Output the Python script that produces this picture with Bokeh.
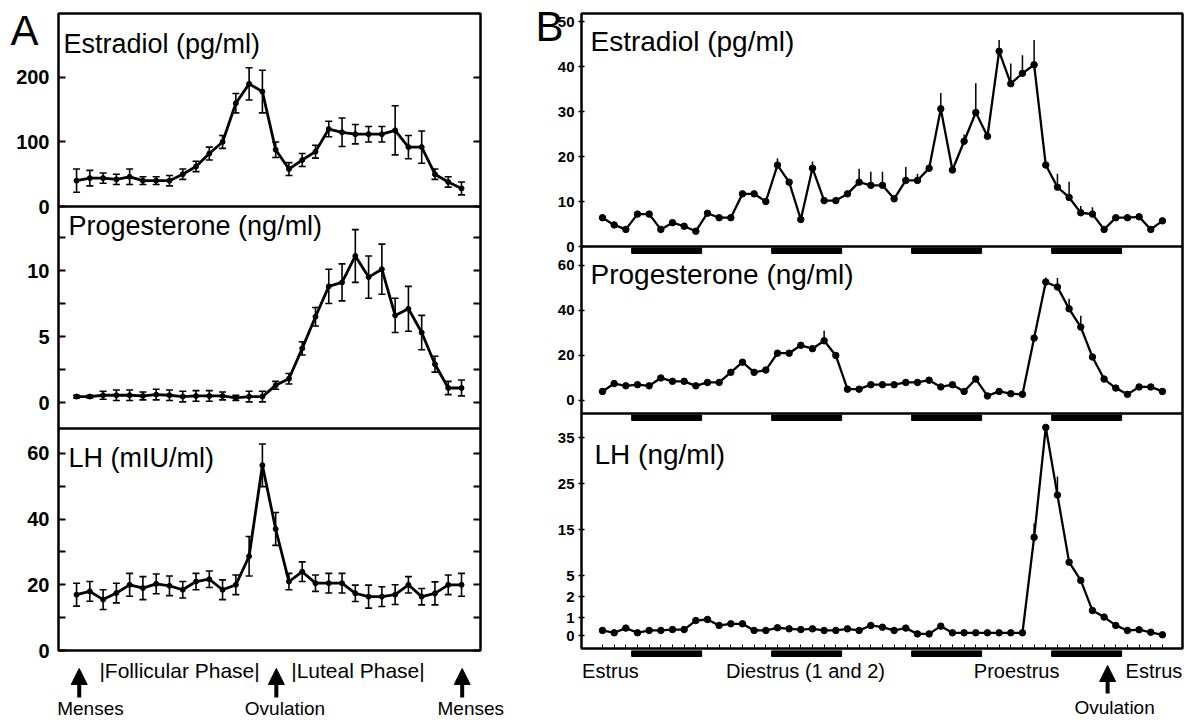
import numpy as np
from bokeh.plotting import figure
from bokeh.models import (Range1d, LinearAxis, FixedTicker, Label, Span, Whisker, Title,
                          TeeHead, ColumnDataSource, Arrow, NormalHead)
from bokeh.layouts import row, column
from bokeh.embed import file_html
from bokeh.resources import INLINE
from bokeh.core.properties import value

FONT = "Liberation Sans"
INK = "black"

# ---------------- data: A (human menstrual cycle, 30 days) ----------------
a_days = list(range(1, 31))
a_estradiol = [40, 44, 44, 42, 46, 40, 40, 40, 50, 62, 82, 100, 160, 190, 178,
               88, 58, 72, 85, 120, 115, 112, 112, 112, 118, 92, 92, 50, 38, 28]
a_estradiol_err = [18, 12, 8, 8, 12, 6, 6, 8, 8, 8, 10, 10, 15, 25, 33,
                   12, 10, 10, 10, 12, 22, 15, 12, 12, 38, 18, 25, 8, 8, 10]
a_progesterone = [0.45, 0.45, 0.55, 0.55, 0.55, 0.5, 0.6, 0.55, 0.45, 0.5, 0.5, 0.5, 0.35, 0.45, 0.45,
                  1.3, 1.8, 4.1, 6.5, 8.8, 9.1, 11.1, 9.5, 10.1, 6.6, 7.1, 5.3, 2.9, 1.1, 1.1]
a_progesterone_err = [0.1, 0.1, 0.3, 0.4, 0.4, 0.3, 0.4, 0.4, 0.4, 0.4, 0.4, 0.3, 0.2, 0.4, 0.4,
                      0.3, 0.4, 0.5, 0.7, 1.3, 1.4, 2.0, 1.6, 1.9, 1.3, 1.7, 1.3, 0.6, 0.5, 0.6]
a_lh = [17, 18, 15.5, 17.5, 20, 19, 20.3, 19.7, 18.5, 21, 21.7, 18.5, 20, 28.7, 56.4,
        37, 21, 24, 20.5, 20.5, 20.5, 17.4, 16.4, 16.4, 17, 20, 16.4, 17.4, 20, 20]
a_lh_err = [3.5, 3, 3, 3, 3.5, 3.5, 3, 3, 2.5, 2.5, 2.5, 3, 3, 6, 6.5,
            5, 2.5, 3, 2.5, 3, 3, 2.5, 3.5, 3, 3, 2.5, 2.5, 3.5, 3, 3.5]

a_estradiol_ticks = [0, 100, 200]
a_estradiol_labels = ["0", "100", "200"]
a_progesterone_ticks = [0, 2.5, 5, 7.5, 10, 12.5]
a_progesterone_labels = ["0", "", "5", "", "10", ""]
a_lh_ticks = [0, 10, 20, 30, 40, 50, 60]
a_lh_labels = ["0", "", "20", "", "40", "", "60"]

a_phase_text = ["|Follicular Phase|", "|Luteal Phase|"]
a_phase_day = [8.76, 22.2]
a_event_text = ["Menses", "Ovulation", "Menses"]
a_event_day = [1.2, 16.05, 30.05]
a_event_text_day = [2.05, 16.7, 30.7]

# ---------------- data: B (rat estrous cycle, 49 samples) ----------------
b_samples = list(range(49))
b_estradiol = [6.4, 4.8, 3.8, 7.2, 7.2, 3.8, 5.3, 4.5, 3.4, 7.4,
               6.4, 6.4, 11.7, 11.7, 10.0, 18.1, 14.3, 6.0, 17.4, 10.2,
               10.2, 11.7, 14.3, 13.6, 13.6, 10.6, 14.7, 14.7, 17.4, 30.6,
               17.0, 23.4, 29.8, 24.5, 43.4, 36.2, 38.5, 40.4, 18.1, 13.2,
               10.9, 7.5, 7.2, 3.8, 6.4, 6.4, 6.6, 3.8, 5.7]
b_estradiol_err = [0, 0, 0, 0, 0, 0, 0, 0, 0, 0,
                   0, 0, 0, 0, 0, 1.5, 0, 0, 1.5, 0,
                   0, 0, 3, 3, 3, 0, 3, 1.5, 0, 3.5,
                   0, 1.5, 6.5, 0, 2.5, 4.5, 4, 5.5, 0, 3,
                   3.5, 1.5, 1.5, 0, 0, 0, 0, 0, 0]
b_progesterone = [4, 7.5, 6.5, 7, 6.5, 10, 8.5, 8.5, 6.5, 8,
                  8, 12.5, 17, 12.5, 13.5, 21, 21, 24.5, 23, 26.5,
                  20, 5, 5, 7, 7, 7, 8, 8, 9, 6,
                  7, 4, 9.5, 2, 4, 3, 2.7, 27.7, 52.6, 50.4,
                  40.7, 32.6, 19.3, 9.5, 5.5, 2.7, 6, 6, 4]
b_progesterone_err = [0, 0, 0, 0, 0, 0, 0, 0, 0, 0,
                      0, 0, 0, 0, 0, 0, 0, 0, 0, 4.5,
                      0, 0, 0, 0, 0, 0, 0, 0, 0, 0,
                      0, 0, 0, 0, 0, 0, 0, 0, 2, 4,
                      4.5, 5, 0, 0, 0, 0, 0, 0, 0]
b_lh = [0.28, 0.15, 0.41, 0.15, 0.28, 0.28, 0.33, 0.33, 0.83, 0.89,
        0.56, 0.65, 0.65, 0.28, 0.28, 0.43, 0.37, 0.33, 0.37, 0.28,
        0.28, 0.37, 0.28, 0.56, 0.46, 0.28, 0.41, 0.09, 0.09, 0.52,
        0.15, 0.15, 0.15, 0.15, 0.15, 0.15, 0.15, 13.3, 37.2, 22.5,
        7.9, 4.3, 1.33, 1.02, 0.56, 0.28, 0.32, 0.18, 0.04]
b_lh_err = [0, 0, 0, 0, 0, 0, 0, 0, 0, 0,
            0, 0, 0, 0, 0, 0, 0, 0, 0, 0,
            0, 0, 0, 0, 0, 0, 0, 0, 0, 0,
            0, 0, 0, 0, 0, 0, 0, 3, 0, 4,
            0, 0, 0, 0, 0, 0, 0, 0, 0]
b_dark_periods = [(2.5, 8.5), (14.5, 20.5), (26.5, 32.5), (38.5, 44.5)]

b_estradiol_ticks = [0, 10, 20, 30, 40, 50]
b_progesterone_ticks = [0, 20, 40, 60]
b_lh_ticks = [0, 1, 2, 5, 15, 25, 35]

b_stage_text = ["Estrus", "Diestrus (1 and 2)", "Proestrus", "Estrus"]
b_stage_sample = [-1.75, 17.4, 35.5, 49.7]
b_stage_align = ["left", "center", "center", "right"]
b_ovulation_sample = 43.3


# broken LH axis in B: expanded low range, linear above 5
def lh_axis(v):
    return np.interp(np.asarray(v, float), [0, 1, 2, 5, 40], [0, 18, 39, 60, 60 + 35 * 4.6])


class Band:
    """A horizontal strip of a tall frame, mapping panel values to frame pixels."""
    def __init__(self, px0, px1, v0, v1, total):
        self.px0, self.px1, self.v0, self.v1 = px0, px1, v0, v1
        s = (v1 - v0) / (px1 - px0)
        self.range = Range1d(v0 - px0 * s, v0 + (total - px0) * s)

    def px(self, v):
        return self.px0 + (np.asarray(v, float) - self.v0) * (self.px1 - self.px0) / (self.v1 - self.v0)


def make_axis(items, **kw):
    ticks, overrides = [], {}
    for band, tvals, tlabels, fn in items:
        for v, lab in zip(tvals, tlabels):
            px = round(float(band.px(fn(v))), 2)
            ticks.append(px)
            overrides[px] = lab
    return LinearAxis(ticker=FixedTicker(ticks=ticks, minor_ticks=[]),
                      major_label_overrides=overrides, axis_line_color=None,
                      major_tick_line_color=INK,
                      minor_tick_line_color=None, **kw)


def ident(v):
    return v


def bare(p):
    p.grid.visible = False
    p.background_fill_color = "white"
    p.border_fill_color = "white"


# ================= Column A =================
A_W, A_H = 530, 660
A_L, A_R, A_T, A_B = 58, 50, 13, 10
A_FH = A_H - A_T - A_B
A_FW = A_W - A_L - A_R
a_x0, a_x1 = -0.36, 31.43
a_ppu = A_FW / (a_x1 - a_x0)

band_a_lh = Band(0, 222, 0, 67.6, A_FH)
band_a_pr = Band(222, 444, -1.97, 14.85, A_FH)
band_a_es = Band(444, A_FH, 0, 299, A_FH)

pa = figure(width=A_W, height=A_H, x_range=Range1d(a_x0, a_x1), y_range=Range1d(0, A_FH),
            x_axis_location=None, y_axis_location=None, toolbar_location=None,
            output_backend="svg", min_border_left=A_L, min_border_right=A_R,
            min_border_top=A_T, min_border_bottom=A_B)
bare(pa)
pa.outline_line_color = INK
pa.outline_line_width = 2.5
pa.extra_y_ranges = {"es": band_a_es.range, "pr": band_a_pr.range, "lh": band_a_lh.range}

for name, y, err in [("es", a_estradiol, a_estradiol_err),
                     ("pr", a_progesterone, a_progesterone_err),
                     ("lh", a_lh, a_lh_err)]:
    y = np.array(y, float)
    e = np.array(err, float)
    src = ColumnDataSource(dict(x=a_days, y=y, lo=y - e, hi=y + e))
    pa.add_layout(Whisker(source=src, base="x", lower="lo", upper="hi", y_range_name=name,
                          line_width=1.6, line_color=INK,
                          upper_head=TeeHead(size=7, line_width=1.6, line_color=INK),
                          lower_head=TeeHead(size=7, line_width=1.6, line_color=INK)))
    pa.line("x", "y", source=src, y_range_name=name, line_width=2.8, line_color=INK)
    pa.scatter("x", "y", source=src, y_range_name=name, size=5, color=INK)

axis_items_a = [(band_a_es, a_estradiol_ticks, a_estradiol_labels, ident),
                (band_a_pr, a_progesterone_ticks, a_progesterone_labels, ident),
                (band_a_lh, a_lh_ticks, a_lh_labels, ident)]
pa.add_layout(make_axis(axis_items_a, major_tick_in=7, major_tick_out=0, major_tick_line_width=2,
                        major_label_standoff=9, major_label_text_font=FONT,
                        major_label_text_font_style="bold", major_label_text_color=INK,
                        major_label_text_font_size="20px"), "left")
pa.add_layout(make_axis(axis_items_a, major_tick_in=7, major_tick_out=0, major_tick_line_width=2,
                        major_label_standoff=0, major_label_text_color=None), "right")

for loc in (band_a_pr.px0, band_a_es.px0):
    pa.add_layout(Span(location=loc, dimension="width", line_color=INK, line_width=2.5))

for band, txt, dx, dy in [(band_a_es, "Estradiol (pg/ml)", 5, -15),
                          (band_a_pr, "Progesterone (ng/ml)", 10, -4),
                          (band_a_lh, "LH (mIU/ml)", 10, -14)]:
    pa.add_layout(Label(x=a_x0, y=band.px1, x_offset=dx, y_offset=dy, text=txt,
                        text_baseline="top", text_font=FONT, text_font_size="27px",
                        text_color=INK))

pa.title = Title(text="A", align="left", offset=-48, vertical_align="bottom", standoff=-80,
                 text_font=FONT, text_font_size="42px", text_font_style="normal",
                 text_color=INK)

# annotation strip under A
ANN_H_A = 58
pa_ann = figure(width=A_W, height=ANN_H_A,
                x_range=Range1d(a_x0 - A_L / a_ppu, a_x1 + A_R / a_ppu),
                y_range=Range1d(-ANN_H_A, 0), x_axis_location=None, y_axis_location=None,
                toolbar_location=None, output_backend="svg", min_border=0,
                outline_line_color=None)
bare(pa_ann)
pa_ann.text(x=a_phase_day, y=[-10] * len(a_phase_day), text=a_phase_text,
            text_font=value(FONT), text_font_size=value("21px"), text_color=INK,
            text_align="center", text_baseline="middle")
pa_ann.text(x=a_event_text_day, y=[-48] * len(a_event_text_day), text=a_event_text,
            text_font=value(FONT), text_font_size=value("19px"), text_color=INK,
            text_align="center", text_baseline="middle")
for d in a_event_day:
    pa_ann.add_layout(Arrow(x_start=d, y_start=-37, x_end=d, y_end=-8, line_width=4,
                            line_color=INK,
                            end=NormalHead(size=16, fill_color=INK, line_color=INK)))

# ================= Column B =================
B_W, B_H = 658, 650
B_L, B_R, B_T, B_B = 51, 6, 13, 2
B_FH = B_H - B_T - B_B
B_FW = B_W - B_L - B_R
b_x0, b_x1 = -1.80, 49.72
b_ppu = B_FW / (b_x1 - b_x0)

band_b_lh = Band(0, 235, -13, 222, B_FH)
band_b_pr = Band(235, 402, -5.8, 68.4, B_FH)
band_b_es = Band(402, B_FH, 0, 51.8, B_FH)

pb = figure(width=B_W, height=B_H, x_range=Range1d(b_x0, b_x1), y_range=Range1d(0, B_FH),
            x_axis_location=None, y_axis_location=None, toolbar_location=None,
            output_backend="svg", min_border_left=B_L, min_border_right=B_R,
            min_border_top=B_T, min_border_bottom=B_B)
bare(pb)
pb.outline_line_color = INK
pb.outline_line_width = 2.5
pb.extra_y_ranges = {"es": band_b_es.range, "pr": band_b_pr.range, "lh": band_b_lh.range}

for name, y, err, fn in [("es", b_estradiol, b_estradiol_err, ident),
                         ("pr", b_progesterone, b_progesterone_err, ident),
                         ("lh", b_lh, b_lh_err, lh_axis)]:
    y = np.array(y, float)
    e = np.array(err, float)
    m = e > 0
    xs = np.array(b_samples)[m]
    pb.segment(x0=xs, y0=fn(y[m]), x1=xs, y1=fn(y[m] + e[m]), y_range_name=name,
               line_color=INK, line_width=1.5)
    pb.line(b_samples, fn(y), y_range_name=name, line_width=2.3, line_color=INK)
    pb.scatter(b_samples, fn(y), y_range_name=name, size=6.5, color=INK)

axis_items_b = [(band_b_es, b_estradiol_ticks, [str(t) for t in b_estradiol_ticks], ident),
                (band_b_pr, b_progesterone_ticks, [str(t) for t in b_progesterone_ticks], ident),
                (band_b_lh, b_lh_ticks, [str(t) for t in b_lh_ticks], lh_axis)]
pb.add_layout(make_axis(axis_items_b, major_tick_in=3, major_tick_out=3, major_tick_line_width=1.5,
                        major_label_standoff=4, major_label_text_font=FONT,
                        major_label_text_font_style="bold", major_label_text_color=INK,
                        major_label_text_font_size="15px"), "left")
pb.add_layout(LinearAxis(ticker=FixedTicker(ticks=b_samples, minor_ticks=[]),
                         axis_line_color=None, major_tick_in=4, major_tick_out=0,
                         major_tick_line_color=INK,
                         major_label_standoff=0, major_label_text_color=None,
                         minor_tick_line_color=None), "below")

for loc in (band_b_pr.px0, band_b_es.px0):
    pb.add_layout(Span(location=loc, dimension="width", line_color=INK, line_width=2.5))

# dark-phase bars just under the panel separators
for top in (band_b_es.px0, band_b_pr.px0):
    pb.quad(left=[s for s, e in b_dark_periods], right=[e for s, e in b_dark_periods],
            top=[top - 1.5] * len(b_dark_periods), bottom=[top - 7] * len(b_dark_periods),
            color=INK)

for band, txt, dx, dy in [(band_b_es, "Estradiol (pg/ml)", 9, -12),
                          (band_b_pr, "Progesterone (ng/ml)", 9, -12),
                          (band_b_lh, "LH (ng/ml)", 13, -25)]:
    pb.add_layout(Label(x=b_x0, y=band.px1, x_offset=dx, y_offset=dy, text=txt,
                        text_baseline="top", text_font=FONT, text_font_size="28px",
                        text_color=INK))

pb.title = Title(text="B", align="left", offset=-46, vertical_align="bottom", standoff=-72,
                 text_font=FONT, text_font_size="42px", text_font_style="normal",
                 text_color=INK)

ANN_H_B = 68
pb_ann = figure(width=B_W, height=ANN_H_B,
                x_range=Range1d(b_x0 - B_L / b_ppu, b_x1 + B_R / b_ppu),
                y_range=Range1d(-ANN_H_B, 0), x_axis_location=None, y_axis_location=None,
                toolbar_location=None, output_backend="svg", min_border=0,
                outline_line_color=None)
bare(pb_ann)
pb_ann.quad(left=[s for s, e in b_dark_periods], right=[e for s, e in b_dark_periods],
            top=[0] * len(b_dark_periods), bottom=[-6] * len(b_dark_periods), color=INK)
for txt, xs, al in zip(b_stage_text, b_stage_sample, b_stage_align):
    pb_ann.text(x=[xs], y=[-20], text=[txt], text_font=value(FONT), text_font_size=value("20px"),
                text_color=INK, text_align=al, text_baseline="middle")
pb_ann.text(x=[b_ovulation_sample + 0.6], y=[-57], text=["Ovulation"], text_font=value(FONT),
            text_font_size=value("19px"), text_color=INK, text_align="center",
            text_baseline="middle")
pb_ann.add_layout(Arrow(x_start=b_ovulation_sample, y_start=-43, x_end=b_ovulation_sample, y_end=-15,
                        line_width=4, line_color=INK,
                        end=NormalHead(size=16, fill_color=INK, line_color=INK)))

layout = row(column(pa, row(pa_ann)), column(pb, row(pb_ann)))
open("out.html", "w").write(file_html(layout, INLINE))
